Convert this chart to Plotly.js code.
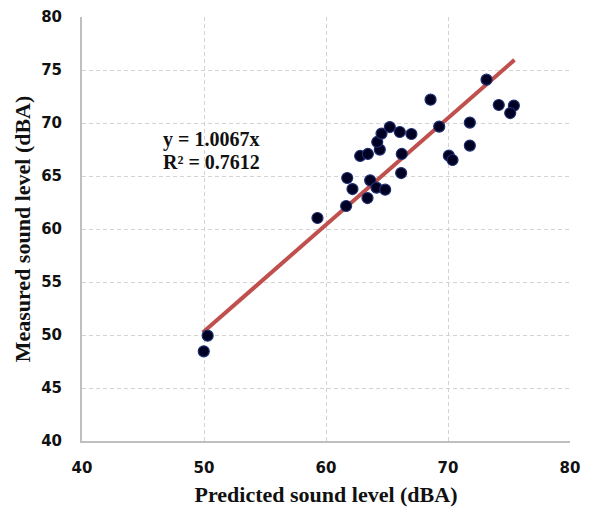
<!DOCTYPE html>
<html>
<head>
<meta charset="utf-8">
<script src="https://cdn.plot.ly/plotly-3.0.1.min.js"></script>
<style>html,body{margin:0;padding:0;background:#fff}#chart{width:590px;height:509px}</style>
</head>
<body>
<div id="chart"></div>
<script>
const predicted = [49.98, 50.3, 59.3, 61.65, 61.74, 62.17, 63.4, 63.62, 64.14, 64.85, 62.8, 63.43, 64.41, 64.2, 64.55, 65.23, 66.05, 67.0, 66.21, 66.16, 68.57, 69.28, 70.07, 70.37, 71.79, 71.79, 73.16, 74.16, 75.4, 75.1];
const measured  = [48.46, 49.94, 61.04, 62.17, 64.81, 63.77, 62.92, 64.59, 63.9, 63.71, 66.89, 67.08, 67.49, 68.21, 69.0, 69.62, 69.15, 68.96, 67.08, 65.28, 72.2, 69.66, 66.92, 66.51, 70.04, 67.87, 74.09, 71.7, 71.64, 70.94];
const slope = 1.0067;
const r2 = 0.7612;
const trendX = [49.9, 75.45];
const trendY = trendX.map(v => slope * v);
const xTicks = [40, 50, 60, 70, 80];
const yTicks = [40, 45, 50, 55, 60, 65, 70, 75, 80];

const tickFont = {family: 'DejaVu Sans, sans-serif', size: 15, color: '#111', weight: 'bold'};
const titleFont = {family: 'Liberation Serif, Times New Roman, serif', size: 22, color: '#111', weight: 'bold'};
const annFont = {family: 'Liberation Serif, Times New Roman, serif', size: 20, color: '#111', weight: 'bold'};

const data = [
  {x: trendX, y: trendY, mode: 'lines', type: 'scatter',
   line: {color: '#c0504d', width: 4}, hoverinfo: 'skip', showlegend: false},
  {x: predicted, y: measured, mode: 'markers', type: 'scatter',
   marker: {color: '#000022', size: 11, line: {color: '#1f2f6f', width: 1.2}}, showlegend: false}
];

const layout = {
  width: 590, height: 509,
  margin: {l: 81.5, r: 20, t: 16.7, b: 68.3},
  paper_bgcolor: '#fff', plot_bgcolor: '#fff',
  showlegend: false,
  xaxis: {
    range: [40, 80], tickvals: xTicks, ticktext: xTicks.map(String),
    showgrid: true, gridcolor: '#d3d3d3', griddash: '4px,3px', gridwidth: 1,
    showline: true, linecolor: '#bfbfbf', linewidth: 2, mirror: false,
    zeroline: false, ticks: 'outside', ticklen: 12, tickcolor: 'rgba(0,0,0,0)',
    tickfont: tickFont,
    title: {text: 'Predicted sound level (dBA)', font: titleFont, standoff: 11}
  },
  yaxis: {
    range: [40, 80], tickvals: yTicks, ticktext: yTicks.map(String),
    showgrid: true, gridcolor: '#d3d3d3', griddash: '4px,3px', gridwidth: 1,
    showline: true, linecolor: '#bfbfbf', linewidth: 2, mirror: false,
    zeroline: false, ticks: 'outside', ticklen: 15, tickcolor: 'rgba(0,0,0,0)',
    tickfont: tickFont,
    title: {text: 'Measured sound level (dBA)', font: titleFont, standoff: 4}
  },
  annotations: [
    {xref: 'paper', yref: 'paper', x: (161 - 81.5) / 488.5, y: 1 - (139 - 16.7) / 424, xanchor: 'left', yanchor: 'middle',
     text: 'y = ' + slope.toFixed(4) + 'x', showarrow: false, font: annFont},
    {xref: 'paper', yref: 'paper', x: (161 - 81.5) / 488.5, y: 1 - (162 - 16.7) / 424, xanchor: 'left', yanchor: 'middle',
     text: 'R² = ' + r2.toFixed(4), showarrow: false, font: annFont}
  ]
};

Plotly.newPlot('chart', data, layout, {displayModeBar: false, staticPlot: true});
</script>
</body>
</html>
